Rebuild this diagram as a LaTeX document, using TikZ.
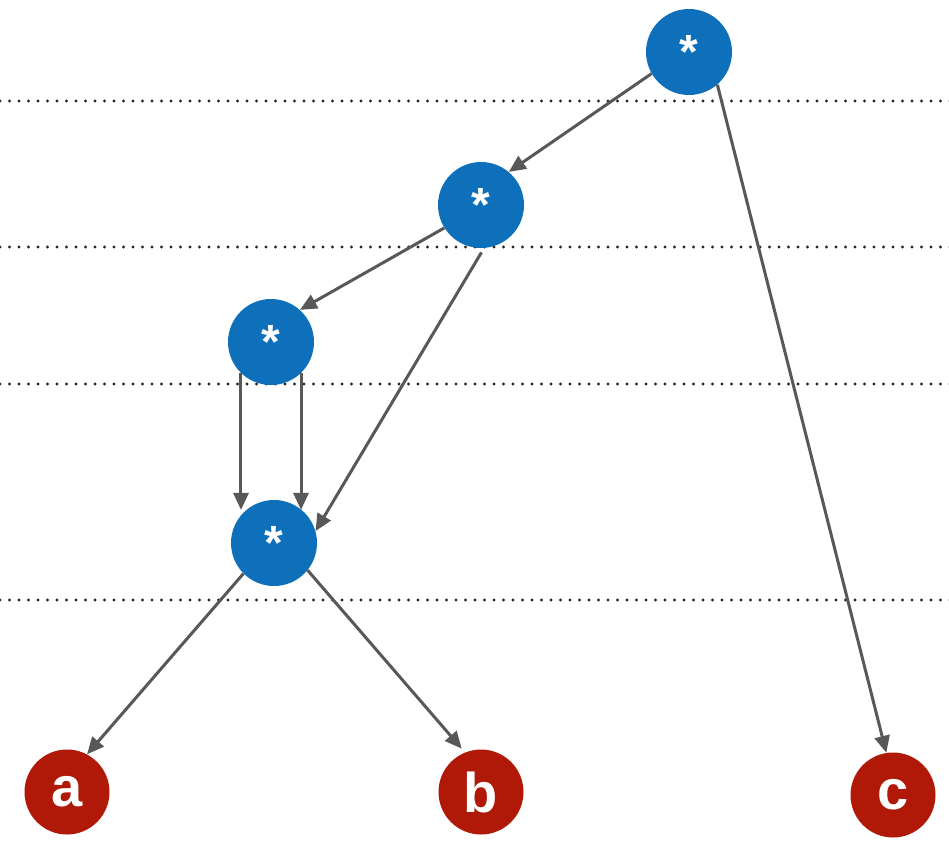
\documentclass[tikz,border=0pt]{standalone}
\usepackage{fontspec}
\setmainfont{Liberation Sans}
\usetikzlibrary{arrows.meta,calc}
\definecolor{opblue}{RGB}{14,112,186}
\definecolor{leafred}{RGB}{176,24,8}
\definecolor{edgegray}{RGB}{88,88,88}
\tikzset{
  opnode/.style={circle,fill=opblue,minimum size=86pt,inner sep=0pt,text=white,font=\bfseries\fontsize{48}{48}\selectfont},
  leaf/.style={circle,fill=leafred,minimum size=85pt,inner sep=0pt,text=white,font=\bfseries\fontsize{56}{56}\selectfont},
  arr/.style={draw=edgegray,line width=3pt,-{Triangle[length=17pt,width=15pt]}},
  levelline/.style={draw=black!85,line width=3.2pt,line cap=round,dash pattern=on 0pt off 9.5pt}
}
\begin{document}
\begin{tikzpicture}[x=1pt,y=1pt]
\useasboundingbox (0,0) rectangle (949,-846);
% level lines
\coordinate (l1a) at (0,-101); \coordinate (l1b) at (952,-101);
\coordinate (l2a) at (0,-247); \coordinate (l2b) at (952,-247);
\coordinate (l3a) at (0,-384); \coordinate (l3b) at (952,-384);
\coordinate (l4a) at (0,-600); \coordinate (l4b) at (952,-600);
\draw[levelline] (l1a) -- (l1b);
\draw[levelline] (l2a) -- (l2b);
\draw[levelline] (l3a) -- (l3b);
\draw[levelline] (l4a) -- (l4b);
% nodes
\node[opnode] (n1) at (689,-52) {*};
\node[opnode] (n2) at (481,-205) {*};
\node[opnode] (n3) at (271,-342) {*};
\node[opnode] (n4) at (274,-543) {*};
\node[leaf] (a) at (67,-792) {a};
\node[leaf] (b) at (481,-792) {b};
\node[leaf] (c) at (893,-795) {c};
% edges
\draw[arr] (n1.210) -- (n2.50);
\draw[arr] (n1.311) -- (c.99);
\draw[arr] (n2.212) -- (n3.48);
\draw[arr,shorten <=5pt] (n2.274) -- (n4.16);
\draw[arr] (n3.226) -- (n3.226 |- n4.130);
\draw[arr] (n3.314) -- (n3.314 |- n4.130);
\draw[arr] (n4.225) -- (a.62);
\draw[arr,shorten >=5pt] (n4.321) -- (b.112);
\end{tikzpicture}
\end{document}
